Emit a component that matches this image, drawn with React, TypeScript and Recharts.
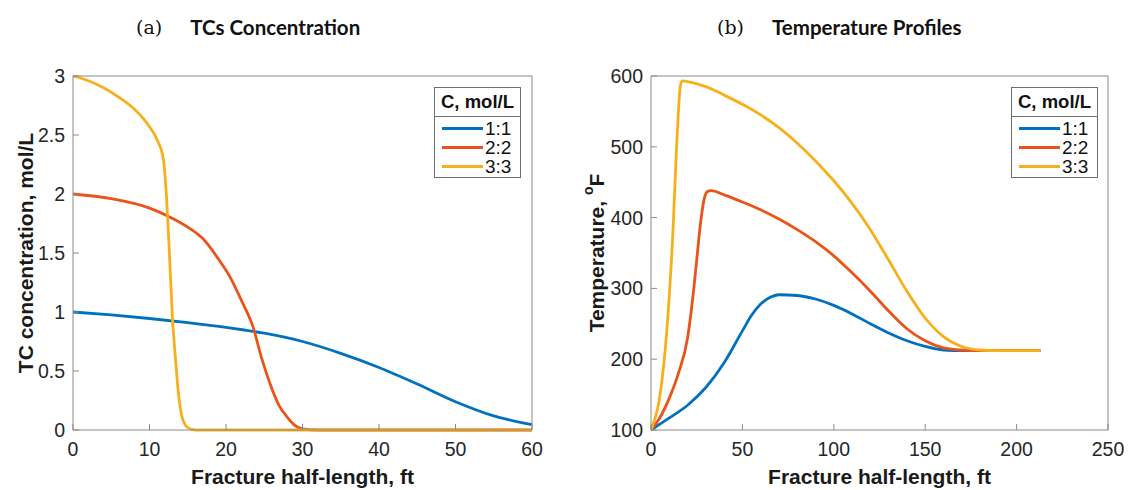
import React from 'react';
import { LineChart, Line, XAxis, YAxis, Label } from 'recharts';

const seriesNames = ['1:1', '2:2', '3:3'];
const seriesColors = ['#0072BD', '#EA531A', '#F6B01C'];

// (a) TCs concentration
const concTicksX = [0, 10, 20, 30, 40, 50, 60];
const concTicksY = [0, 0.5, 1, 1.5, 2, 2.5, 3];
const conc11X = [0, 5, 10, 15, 20, 25, 30, 35, 40, 45, 50, 55, 60];
const conc11Y = [1.0, 0.975, 0.945, 0.91, 0.87, 0.82, 0.75, 0.65, 0.53, 0.39, 0.24, 0.12, 0.045];
const conc22X = [0, 5, 10, 12.5, 15, 17, 19, 20.5, 22, 23.5, 24.7, 26, 27, 28, 29, 30, 32, 40, 60];
const conc22Y = [2.0, 1.96, 1.88, 1.81, 1.72, 1.62, 1.45, 1.3, 1.1, 0.88, 0.6, 0.35, 0.2, 0.11, 0.04, 0.01, 0, 0, 0];
const conc33X = [0, 2, 4, 6, 8, 10, 11, 11.8, 12.2, 12.6, 13, 13.4, 13.8, 14.3, 15, 16, 20, 60];
const conc33Y = [3.0, 2.96, 2.9, 2.82, 2.72, 2.57, 2.46, 2.3, 2.0, 1.5, 0.95, 0.6, 0.3, 0.1, 0.02, 0, 0, 0];

// (b) Temperature profiles
const tempTicksX = [0, 50, 100, 150, 200, 250];
const tempTicksY = [100, 200, 300, 400, 500, 600];
const temp11X = [0, 10, 20, 30, 40, 50, 55, 60, 65, 70, 80, 90, 100, 110, 120, 130, 140, 150, 160, 170, 213];
const temp11Y = [100, 117, 135, 160, 195, 240, 262, 278, 287, 291, 290, 285, 276, 264, 250, 237, 226, 218, 213, 212, 212];
const temp22X = [0, 5, 10, 15, 20, 23, 25, 27, 29, 31, 33, 40, 50, 60, 70, 80, 90, 100, 110, 120, 130, 140, 150, 160, 170, 180, 213];
const temp22Y = [100, 118, 145, 180, 230, 290, 340, 390, 425, 437, 438, 432, 422, 411, 398, 383, 366, 346, 322, 296, 268, 243, 226, 216, 213, 212, 212];
const temp33X = [0, 2, 4, 6, 8, 10, 12, 13, 14, 15, 16, 17, 20, 30, 40, 50, 60, 70, 80, 90, 100, 110, 120, 130, 140, 150, 160, 170, 180, 190, 213];
const temp33Y = [100, 115, 135, 170, 220, 290, 380, 440, 500, 550, 585, 593, 592, 585, 573, 560, 545, 527, 505, 480, 452, 420, 383, 340, 296, 258, 232, 218, 213, 212, 212];

const toPts = (xs: number[], ys: number[]) => xs.map((x, i) => ({ x, y: ys[i] }));

const AXIS = '#8a8a8a';
const SANS = '"Liberation Sans", Arial, sans-serif';
const TICK_FONT = 19.5;
const TITLE_FONT = 21;

type PanelProps = {
  left: number;
  width: number;
  margin: { top: number; right: number; bottom: number; left: number };
  xDomain: [number, number];
  xTicks: number[];
  yDomain: [number, number];
  yTicks: number[];
  series: { x: number; y: number }[][];
  yTitle: React.ReactNode;
  yTitleX: number;
};

function Panel(p: PanelProps) {
  return (
    <div style={{ position: 'absolute', left: p.left, top: 0 }}>
      <LineChart width={p.width} height={490} margin={p.margin}>
        <XAxis
          xAxisId="b"
          type="number"
          dataKey="x"
          domain={p.xDomain}
          ticks={p.xTicks}
          height={60}
          tickSize={-6}
          tickMargin={18}
          axisLine={{ stroke: AXIS, strokeWidth: 1 }}
          tickLine={{ stroke: AXIS }}
          tick={{ fill: '#262626', fontSize: TICK_FONT, fontFamily: SANS }}
          interval={0}
        >
          <Label
            content={(lp: any) => {
              const vb = lp.viewBox || {};
              return (
                <text
                  x={vb.x + vb.width / 2}
                  y={484}
                  textAnchor="middle"
                  fontFamily={SANS}
                  fontWeight="bold"
                  fontSize={TITLE_FONT}
                  fill="#1a1a1a"
                >
                  Fracture half-length, ft
                </text>
              );
            }}
          />
        </XAxis>
        <XAxis
          xAxisId="t"
          orientation="top"
          type="number"
          domain={p.xDomain}
          ticks={p.xTicks}
          height={1}
          tickSize={-6}
          tick={false}
          axisLine={{ stroke: AXIS, strokeWidth: 1 }}
          tickLine={{ stroke: AXIS }}
          interval={0}
        />
        <YAxis
          yAxisId="l"
          type="number"
          domain={p.yDomain}
          ticks={p.yTicks}
          width={1}
          tickSize={-6}
          tickMargin={14}
          axisLine={{ stroke: AXIS, strokeWidth: 1 }}
          tickLine={{ stroke: AXIS }}
          tick={{ fill: '#262626', fontSize: TICK_FONT, fontFamily: SANS }}
          interval={0}
        >
          <Label
            content={(lp: any) => {
              const vb = lp.viewBox || {};
              const cy = vb.y + vb.height / 2;
              return (
                <text
                  x={p.yTitleX}
                  y={cy}
                  transform={`rotate(-90 ${p.yTitleX} ${cy})`}
                  textAnchor="middle"
                  dominantBaseline="central"
                  fontFamily={SANS}
                  fontWeight="bold"
                  fontSize={TITLE_FONT}
                  fill="#1a1a1a"
                >
                  {p.yTitle}
                </text>
              );
            }}
          />
        </YAxis>
        <YAxis
          yAxisId="r"
          orientation="right"
          type="number"
          domain={p.yDomain}
          ticks={p.yTicks}
          width={1}
          tickSize={-6}
          tick={false}
          axisLine={{ stroke: AXIS, strokeWidth: 1 }}
          tickLine={{ stroke: AXIS }}
          interval={0}
        />
        {p.series.map((d, i) => (
          <Line
            key={seriesNames[i]}
            xAxisId="b"
            yAxisId="l"
            data={d}
            dataKey="y"
            name={seriesNames[i]}
            type="monotone"
            stroke={seriesColors[i]}
            strokeWidth={2.8}
            dot={false}
            activeDot={false}
            isAnimationActive={false}
          />
        ))}
      </LineChart>
    </div>
  );
}

function LegendBox({ left }: { left: number }) {
  return (
    <div
      style={{
        position: 'absolute',
        left,
        top: 87,
        width: 87,
        height: 91,
        border: '1px solid #6e6e6e',
        background: '#fff',
        boxSizing: 'border-box',
        fontFamily: SANS,
        color: '#111',
      }}
    >
      <div
        style={{
          height: 28,
          borderBottom: '1px solid #6e6e6e',
          fontWeight: 'bold',
          fontSize: 18.5,
          textAlign: 'center',
          lineHeight: '28px',
          whiteSpace: 'nowrap',
        }}
      >
        C, mol/L
      </div>
      <div style={{ paddingTop: 2 }}>
        {seriesNames.map((n, i) => (
          <div key={n} style={{ height: 19, display: 'flex', alignItems: 'center' }}>
            <div style={{ marginLeft: 7, width: 41, height: 3, background: seriesColors[i] }} />
            <div style={{ marginLeft: 2, fontSize: 19 }}>{n}</div>
          </div>
        ))}
      </div>
    </div>
  );
}

function Title({ left, letter, text }: { left: number; letter: string; text: string }) {
  return (
    <div
      style={{
        position: 'absolute',
        left,
        top: 14,
        height: 26,
        display: 'flex',
        alignItems: 'center',
        whiteSpace: 'nowrap',
      }}
    >
      <span style={{ fontFamily: '"DejaVu Serif", "Liberation Serif", serif', fontSize: 19, color: '#111' }}>{letter}</span>
      <span style={{ marginLeft: 28, fontFamily: 'Lato, "Open Sans", sans-serif', fontWeight: 'bold', fontSize: 20.5, color: '#111' }}>
        {text}
      </span>
    </div>
  );
}

export default function App() {
  const concSeries = [toPts(conc11X, conc11Y), toPts(conc22X, conc22Y), toPts(conc33X, conc33Y)];
  const tempSeries = [toPts(temp11X, temp11Y), toPts(temp22X, temp22Y), toPts(temp33X, temp33Y)];
  return (
    <div style={{ position: 'absolute', left: 0, top: 0, width: 1131, height: 490, background: '#fff', overflow: 'hidden' }}>
      <Panel
        left={0}
        width={565}
        margin={{ top: 75, right: 32, bottom: 0, left: 72 }}
        xDomain={[0, 60]}
        xTicks={concTicksX}
        yDomain={[0, 3]}
        yTicks={concTicksY}
        series={concSeries}
        yTitle="TC concentration, mol/L"
        yTitleX={25}
      />
      <Panel
        left={565}
        width={566}
        margin={{ top: 75, right: 22, bottom: 0, left: 85 }}
        xDomain={[0, 250]}
        xTicks={tempTicksX}
        yDomain={[100, 600]}
        yTicks={tempTicksY}
        series={tempSeries}
        yTitle={
          <>
            <tspan>Temperature, </tspan>
            <tspan dy={-8} fontSize={14}>o</tspan>
            <tspan dy={8}>F</tspan>
          </>
        }
        yTitleX={31}
      />
      <LegendBox left={434} />
      <LegendBox left={1011} />
      <Title left={136} letter="(a)" text="TCs Concentration" />
      <Title left={717} letter="(b)" text="Temperature Profiles" />
    </div>
  );
}
